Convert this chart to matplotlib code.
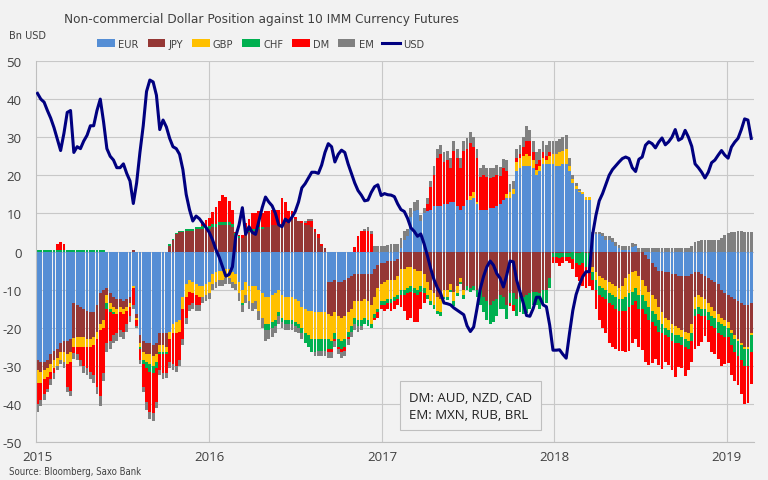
import numpy as np
import pandas as pd
import matplotlib
matplotlib.use("Agg")
import matplotlib.pyplot as plt
from matplotlib.patches import Patch
from matplotlib.lines import Line2D
from matplotlib import font_manager
from matplotlib.font_manager import FontProperties

# ---------------- data (Bn USD, weekly, first week 2015-01-02) ----------------
start_date = '2015-01-02'

eur = [-28.5, -29, -29, -28.5, -27, -26, -25.5, -24, -23.5, -23.5,
       -23, -13.6, -14, -14.5, -15, -15.5, -16, -16, -14, -11,
       -10, -9.5, -11, -12, -12.5, -12.5, -13, -12.5, -12, -9,
       -16.5, -22, -23.5, -24, -24, -24.5, -24, -21.5, -21.5, -21.5,
       -21, -19, -18.5, -18, -12, -8.5, -7.5, -8, -8.5, -9,
       -9, -8.5, -8, -6, -5.5, -5, -5, -4.5, -4.5, -5.5,
       -6, -8, -10, -8, -9, -9, -9, -10, -11, -12,
       -12, -11.5, -11, -10, -11.5, -12, -12, -12, -12.5, -13,
       -14.5, -15, -15.5, -15.5, -16, -16, -16, -16, -8, -8,
       -7.5, -8, -8, -7.5, -7, -6.5, -6, -6, -6, -6,
       -6, -6, -4.5, -3.5, -3, -3, -2.5, -2.5, -2.5, -2,
       1, 3, 4, 9, 10.5, 11, 8, 10, 10.5, 11,
       12, 12, 12, 12.5, 12.5, 13, 13, 12, 11, 12,
       13.5, 13.5, 14, 12.5, 11, 11, 11, 11.5, 11.5, 12,
       12.5, 13.5, 14, 14, 15, 21, 22, 22.5, 22.5, 22.5,
       22, 20, 21, 23, 23, 23, 23, 22.5, 22.5, 23,
       23, 21, 18, 16.5, 15.5, 15, 13.5, 13.5, 4.5, 4.5,
       4.5, 4, 3, 3, 2.5, 1.5, 0.8, 0.5, 0.5, 0.5,
       1.2, 1.5, 0, 0, -1, -2, -3, -4, -5, -5,
       -5.5, -5.5, -6, -6, -6.5, -6.5, -6.5, -6.5, -6, -5.5,
       -5.5, -6, -6.5, -7, -7.5, -8, -8.5, -10, -11, -11.5,
       -12, -12.5, -13, -13.5, -14, -14, -13.5]

jpy = [-2.5, -2.5, -2, -2, -2.5, -2.5, -2.5, -2.5, -3, -3.5,
       -3.5, -9, -8.5, -8, -7.5, -7.5, -7, -6.5, -7, -8,
       -8, -2, -2.5, -2.5, -2.5, -2, -2, -2, -1.5, 0.3,
       -1, -2, -3, -3, -3, -3, -3, -3, -3, -3.5,
       1.5, 3, 4.5, 5, 5, 5.5, 5.5, 5.5, 5.8, 5.8,
       6, 6, 6, 6.5, 6.5, 7, 7, 7, 7, 6.5,
       4, 3.5, 3.5, 4.5, 5, 5.5, 5.5, 6, 6, 6.5,
       6.5, 7, 7, 7, 7, 7.5, 8, 8.5, 8.5, 8,
       7.5, 7, 7, 6.5, 5, 3.5, 1.5, 0.8, -8.5, -9,
       -8.5, -9, -9.5, -9.5, -9, -8.5, -7, -7, -7, -6.5,
       -7, -8, -7.5, -6, -5.5, -5, -5, -5, -5, -4.5,
       -4.5, -4.5, -4, -4, -4.5, -5, -5, -6, -8, -10,
       -11, -12, -12.5, -10, -10, -8.5, -10.5, -9, -7, -10,
       -9, -9.5, -9, -10, -10, -12, -13, -14, -13, -12.5,
       -11.5, -12, -14, -11, -11, -12.5, -12, -12, -11.5, -11,
       -10.5, -10.5, -11, -10, -10, -7, -0.5, -0.5, -0.5, -0.5,
       -0.5, -0.5, 0, -0.5, -0.5, 0, -0.5, -0.5, -4, -5.5,
       -6.5, -7, -7.5, -8, -8.5, -9, -9.5, -9, -7, -6,
       -5.5, -5, -6.5, -7.5, -8, -8.5, -8.5, -8.5, -9.5, -11,
       -12, -12.5, -13, -13.5, -13.5, -14, -14.5, -15, -13, -6.5,
       -6, -6, -6, -6.5, -7, -7.5, -8, -7.5, -7, -7,
       -8.5, -9.5, -10, -10.5, -11, -11, -8]

gbp = [-3.5, -3, -2.5, -2.5, -2, -2, -2, -2, -2.5, -2.5,
       -2.5, -2.5, -2.5, -2.5, -2.5, -2, -2, -2, -2, -1.5,
       -2, -2, -1.5, -1.5, -1.5, -1.5, -1.5, -1, -1, -0.5,
       -0.5, -1, -2, -2, -2.5, -2.5, -2, -2, -2, -1.5,
       -2, -2.5, -3, -3, -3, -3.5, -3, -3, -3, -3,
       -3, -3, -3, -2.5, -2.5, -2.5, -2.5, -2.5, -2.5, -2.5,
       -2.5, -3, -3.5, -3.5, -4, -4.5, -4, -5.5, -6.5, -7,
       -7, -7, -7, -6, -6, -6, -6, -6, -6, -6,
       -5.5, -6.5, -6.5, -7.5, -7, -7, -7, -7, -6.5, -6.5,
       -5.5, -6, -6, -6, -5, -4.5, -4.5, -5, -5, -5,
       -5, -5, -4.5, -5.5, -4.5, -5, -5, -5, -4.5, -5,
       -5.5, -5.5, -5.5, -5, -5, -5, -4, -3.5, -3.5, -3,
       -3, -3.5, -3.5, -2, -2, -1.5, -2.5, -2, -1, -1.5,
       0, 1, 1.5, 0.5, 0, 0, 0, 0, 0, 0,
       0, 0, 1, 1.5, 1.5, 2.5, 2.5, 2.5, 3, 2.5,
       2, 1.5, 1.5, 1.5, 1, 2, 2.5, 3, 3.5, 3.5,
       4, 1.5, 1, 0.8, 0.5, 0.5, 0.8, 0.8, -1.5, -2,
       -2.5, -2.5, -2.5, -3, -3, -3, -3, -3.5, -5, -5,
       -5, -4.5, -5, -4, -4, -4, -4, -4, -3.5, -3,
       -2.5, -2.5, -2.5, -2.5, -2, -2, -2, -2, -2.5, -3,
       -3, -3, -2.5, -2.5, -2.5, -2, -2, -1.5, -1.5, -1.5,
       -1, -1, -0.5, -0.5, -0.5, -0.5, -0.5]

chf = [0.5, 0.5, 0.5, 0.5, 0.5, 0.5, 0.5, 0.5, 0.5, 0.5,
       0.5, 0.5, 0.5, 0.5, 0.5, 0.5, 0.5, 0.5, 0.5, 0.5,
       0.3, -1.5, -1, -0.5, 0, 0, 0, 0, 0, 0,
       0, -0.5, -1, -1.5, -2, -2, -1.5, -0.5, -0.5, -0.3,
       0.5, 0.3, 0.3, 0.3, 0.3, 0.5, 0.5, 0.5, 0.5, 0.6,
       0.7, 0.7, 0.8, 0.8, 0.8, 0.8, 0.8, 0.8, 0.8, 0.8,
       0.8, 0.5, -0.5, 0.5, 0.5, 0.5, 0.5, 0.5, 0.5, -1.5,
       -1.5, -1.5, -1.5, -1, -1, -1, -1, -1, -1, -1,
       -1.5, -2.5, -3, -3.5, -3.5, -3, -3, -3, -2.5, -2,
       -1.5, -2, -2, -2, -1.5, -1.5, -1.5, -1.5, -1.5, -1.5,
       -1.5, -1, -1, -1, -1, -1, -1, -1, -1, -1,
       -1.5, -1.5, -1.5, -1.5, -1.5, -1.5, -1.5, -1.5, -1, -1,
       -1, -1, -1, -0.5, -0.8, -0.5, -1.2, -0.6, -0.5, -0.9,
       -1.2, -1, -1.2, -2, -4, -4, -5, -5, -5.4, -4.4,
       -3.7, -3.1, -3.8, -2.5, -3, -4.5, -4, -4.5, -4.7, -4,
       -3.5, -3.5, -4, -4, -3.5, -2.7, -1, -1, -1.2, -1,
       -1, -1, -2, -2.5, -3, -3, -3.5, -3.5, -2, -2.5,
       -2.5, -2.5, -2.5, -2.5, -2.5, -3, -3, -3, -3.5, -3.5,
       -3.5, -3.5, -3.5, -3.5, -3.5, -3.5, -3, -3, -3, -2.5,
       -2, -2, -2, -2, -2, -2, -2, -2, -2, -2,
       -2, -2, -2, -2, -2.5, -2.5, -3, -3, -3, -2.5,
       -3, -3.5, -4, -4, -4.5, -4.5, -4.5]

dm = [-5.5, -4.5, -4, -3, -2, -1.5, 1.5, 2, 1.5, -6,
      -7.5, -1.5, -2, -3.5, -5, -5.5, -6.5, -8, -12.5, -17.5,
      -12, -9, -7.5, -5.5, -5, -4.5, -4.5, -3.5, -2.5, -4.5,
      -1.5, -3, -6, -9, -10.5, -10.5, -9, -4, -5, -5,
      -6, -8, -8.5, -7.5, -8, -5.5, -3.5, -2.5, -2.5, -2,
      1, 1.5, 2, 3, 4.5, 5.5, 7, 6.5, 5.5, 3.5,
      0.3, 0.3, 0.8, 2.5, 3, 4, 4, 4, 3.5, 4,
      4, 4, 4, 4, 7, 5.5, 2.5, 2, 0.5, 0,
      0.5, 0.5, 1, 1.5, 1, 1, 0.5, 0.2, -1, -1,
      -0.5, -0.5, -1, -1, -0.5, 0, 1.2, 4, 5.5, 5.5,
      5.5, 4.5, -0.5, -1.5, -1, -1.5, -1.5, -2, -2, -1.5,
      -3, -4, -7, -7, -7.5, -7, -4.5, -2.5, 2, 6,
      8, 12.5, 13.5, 11, 11.5, 9, 13.5, 12.5, 11, 14.5,
      13.5, 14, 12, 11.5, 8.5, 9, 8.5, 7.8, 8, 8,
      7.2, 8.4, 6, -0.8, -1.5, 1, 1, 2.5, 3.5, 4,
      2, 1.5, 1.5, 1.5, 1, 1, -1.5, -1.5, -2, -1.5,
      -1, -1.5, -2.5, -3.7, -4.3, -6.1, -5.5, -5, -2.5, -5,
      -6.5, -8, -9, -10.5, -11, -10.5, -10.5, -10.5, -11, -11.5,
      -10, -10, -10, -10.8, -12.5, -11.8, -10.8, -8.7, -8.7, -9.3,
      -7, -7.3, -7.5, -9, -6.2, -6.2, -7.8, -5.5, -5.5, -8.5,
      -8.3, -6.8, -5.3, -5.8, -6.8, -7, -6.8, -8, -7, -6.8,
      -7.9, -7.4, -7.5, -8.8, -10, -9.7, -8.3]

em = [-2, -1.5, -1.5, -1, -1.5, -1.5, -1, -1, -1.5, -1.5,
      -1.5, -1.5, -1.5, -1.5, -2, -2, -2, -2, -2, -2.5,
      -2, -2.5, -2, -2, -2, -2, -2, -2, -1.5, -1,
      -0.5, -1, -1.5, -2, -2, -2, -1.5, -1.5, -1.5, -1.5,
      -1.5, -1.5, -1.5, -1.5, -1.5, -1.5, -1.5, -1.5, -1.5, -1.5,
      -1.5, -1.5, -1.5, -1.5, -1.5, -1.5, -1.5, -1.5, -1.5, -1.5,
      -1.5, -2, -2, -2, -2, -2, -2, -2.5, -2.5, -3,
      -2.5, -2.5, -2, -2, -1.5, -1.5, -1.5, -1.5, -1.5, -1.5,
      -1.5, 0.5, 0.5, 0.5, -1, -1.5, -1.5, -1.5, -1.5, -1.5,
      -1.5, -1.5, -1.5, -1.5, -1.5, -1.5, -1.5, -1.5, -1, 0.5,
      1, 1, 1.5, 1.5, 1.5, 1.5, 1.8, 2, 2, 2,
      2.5, 2.5, 2, 2.5, 2.5, 2.5, 1.5, 1.5, 1.5, 1.5,
      2.5, 2.5, 2.5, 2.5, 2.5, 2.5, 2.5, 2.5, 2.5, 2.5,
      2.7, 2.9, 2.5, 2.5, 2.5, 2.7, 2.5, 2.5, 2.5, 2.7,
      2.5, 2.5, 3, 2.3, 2, 2.5, 2.5, 2.5, 4, 3,
      3, 3, 3, 3, 3, 3, 3.5, 3.5, 3.5, 3.5,
      3.5, 2, 1, 0.7, 0.5, 0.2, 0, 0, 0.5, 0.5,
      0.5, 0.8, 1, 1, 1, 1, 1, 1, 1, 1,
      1, 0.5, 1, 1, 1, 1, 1, 1, 1, 1,
      1, 1, 1, 1, 1, 1, 1, 1, 1.5, 2.5,
      2.8, 3, 3, 3, 3, 3, 3, 3.5, 4.2, 4.8,
      5, 5.2, 5.3, 5.3, 5.2, 5.2, 5]

usd = [41.5, 40, 39.2, 37, 35, 32.5, 29.5, 26.5, 31, 36.5,
       37, 26, 27.5, 27, 29, 30.5, 33, 33, 37, 40,
       34, 27, 25, 24, 22, 22, 23, 20.5, 18.5, 12.6,
       18, 26, 33, 42, 45, 44.5, 41, 32,
       34.5, 32.7, 29.7, 27.5, 27, 25.5, 21.5, 15, 11, 8,
       9.3, 8.6, 7.4, 6.3, 5, 3, 0.5, -1.5, -4, -6.5,
       -6, -4, 4, 7, 11.5, 4.5, 6.5, 5, 4.5, 8,
       11.5, 14.3, 13, 12, 10, 7,
       6.5, 8.5, 7.8, 9, 10.5, 13, 16.7, 17.8, 19.3, 20.8,
       20.8, 20.5, 22.7, 26, 28.3, 27.5, 23.5, 25.5, 26.6, 26,
       23, 20.5, 18, 16, 14.8, 13.3,
       13.5, 15.5, 17, 17.5, 14.7, 15.2, 14.9, 14.8, 14.4, 12.5,
       11, 10.5, 8.7, 6.2, 5.3, 4, 4.6, 2, -1.1, -4.5,
       -7.4, -9.5, -11, -13.5, -13.7, -14, -14.8, -15.4, -16, -16.6,
       -19.5, -21, -19.8, -15, -9.8, -6.5, -4, -2.5, -3.6, -5.8,
       -7, -9.3, -6.2, -2.5, -2.7, -7.5, -10.5,
       -13.5, -16.8, -17, -15, -12, -12, -14, -14.5, -19.3, -25.9,
       -25.9, -25.8, -27, -28, -21.5, -15.5, -11.3, -8.7, -6.6, -5.3,
       -5.3, 4.5, 9.5, 13.3, 15.2, 17.6, 20, 21.5, 22.5, 23.5,
       24.4, 24.8, 24.4, 22, 21, 24.2,
       24.8, 27.9, 28.8, 28.3, 27.2, 28.7, 29.8, 28, 28.8, 30,
       32, 29.2, 29.7, 31.8, 30, 27.6, 23, 22, 20.8, 19.3,
       20.8, 23.3, 24, 25.3, 26.5, 25.3, 24.5, 27.4, 28.7, 29.7,
       32, 34.8, 34.5, 29.7]

series_names = ['EUR', 'JPY', 'GBP', 'CHF', 'DM', 'EM']
series_vals = [eur, jpy, gbp, chf, dm, em]
series_colors = ['#558ED5', '#953735', '#FFC000', '#00B050', '#FF0000', '#808080']
usd_color = '#000080'
year_ticks = ['2015', '2016', '2017', '2018', '2019']
y_ticks = [-50, -40, -30, -20, -10, 0, 10, 20, 30, 40, 50]
title = 'Non-commercial Dollar Position against 10 IMM Currency Futures'
note = 'DM: AUD, NZD, CAD\nEM: MXN, RUB, BRL'
source = 'Source: Bloomberg, Saxo Bank'

# ---------------- fonts ----------------
plt.rcParams['font.family'] = ['Open Sans', 'DejaVu Sans']
narrow_fp = None
for f in font_manager.fontManager.ttflist:
    if (('Narrow' in f.name) or (f.stretch in ('condensed', 'semi-condensed'))) \
            and f.style == 'normal' and str(f.weight) in ('400', 'normal', 'regular', '300', 'light'):
        narrow_fp = f.fname
        break


def fprops(size, weight='normal'):
    if narrow_fp:
        return FontProperties(fname=narrow_fp, size=size)
    return FontProperties(family=['Open Sans', 'DejaVu Sans'], size=size, weight=weight)


bg = '#F2F2F2'
txt = '#404040'

n = len(usd)
dates = pd.date_range(start_date, periods=n, freq='7D')

fig = plt.figure(figsize=(7.68, 4.81), dpi=100, facecolor=bg)
ax = fig.add_axes([35.6 / 768, 1 - 443 / 481, 718 / 768, (443 - 62) / 481])
ax.set_facecolor(bg)

pos_bottom = np.zeros(n)
neg_bottom = np.zeros(n)
for name, vals, col in zip(series_names, series_vals, series_colors):
    v = np.asarray(vals, dtype=float)
    pos = np.where(v > 0, v, 0.0)
    neg = np.where(v < 0, v, 0.0)
    ax.bar(dates, pos, bottom=pos_bottom, width=6.0, color=col, linewidth=0, zorder=2)
    ax.bar(dates, neg, bottom=neg_bottom, width=6.0, color=col, linewidth=0, zorder=2)
    pos_bottom += pos
    neg_bottom += neg

ax.plot(dates, usd, color=usd_color, lw=2.2, zorder=4, solid_joinstyle='round')

ax.set_xlim(pd.Timestamp('2014-12-29'), pd.Timestamp('2019-02-27'))
ax.set_ylim(-50, 50)
ax.set_yticks(y_ticks)
ax.set_yticklabels([str(t) for t in y_ticks], fontsize=9.5, color=txt)
xt = [pd.Timestamp(y + '-01-01') for y in year_ticks]
ax.set_xticks(xt)
ax.set_xticklabels(year_ticks, fontsize=9.5, color=txt)
ax.tick_params(axis='both', length=0)
ax.tick_params(axis='x', pad=6)
ax.tick_params(axis='y', pad=10)

ax.grid(axis='y', color='#C8C8C8', lw=0.8, zorder=0)
for t in xt[1:]:
    ax.axvline(t, color='#C8C8C8', lw=0.8, zorder=0)
for s in ['top', 'right']:
    ax.spines[s].set_visible(False)
ax.spines['left'].set_color('#BFBFBF')
ax.spines['bottom'].set_color('#BFBFBF')

fig.canvas.draw()
renderer = fig.canvas.get_renderer()


def fit_width(textobj, target_px):
    w = textobj.get_window_extent(renderer).width
    if w > 0:
        textobj.set_fontsize(textobj.get_fontsize() * target_px / w)


# title
t_title = fig.text(261 / 768, 1 - 19 / 481, title, ha='center', va='center',
                   color='#404040', fontproperties=fprops(14, 'light'))
fit_width(t_title, 395)

# unit label
t_unit = fig.text(9 / 768, 1 - 36 / 481, 'Bn USD', ha='left', va='center',
                  color=txt, fontproperties=fprops(8))
fit_width(t_unit, 37)

# legend
handles = [Patch(facecolor=c, edgecolor='none') for c in series_colors]
handles.append(Line2D([0], [0], color=usd_color, lw=2.2))
labels = series_names + ['USD']
leg_fs = 8.5
leg = None
for _ in range(3):
    if leg is not None:
        leg.remove()
    leg = fig.legend(handles, labels, loc='center', bbox_to_anchor=(261 / 768, 1 - 45 / 481),
                     ncol=7, frameon=False, handlelength=1.6, handleheight=0.65,
                     columnspacing=0.8, handletextpad=0.3, borderpad=0.1,
                     prop=fprops(leg_fs))
    fig.canvas.draw()
    lw_px = leg.get_window_extent(renderer).width
    leg_fs = leg_fs * 330 / lw_px
for t in leg.get_texts():
    t.set_color(txt)

# note box
t_note = ax.text(0.52, 0.055, note, transform=ax.transAxes, ha='left', va='bottom',
                 fontsize=9.5, color='#222222', linespacing=1.45,
                 bbox=dict(boxstyle='square,pad=0.7', facecolor=bg, edgecolor='#BFBFBF', lw=0.8),
                 zorder=5)

# source
t_src = fig.text(9 / 768, 1 - 472 / 481, source, ha='left', va='center',
                 color=txt, fontproperties=fprops(7))
fit_width(t_src, 133)

fig.savefig('out.png', dpi=100, facecolor=bg)
